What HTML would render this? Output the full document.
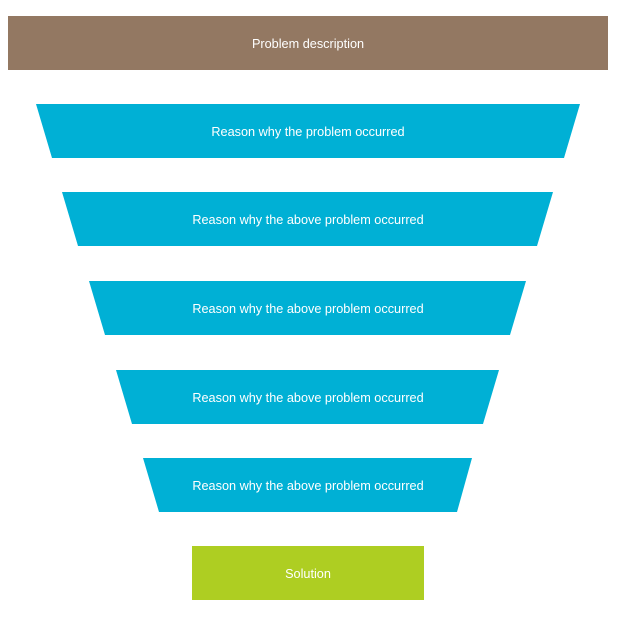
<!DOCTYPE html>
<html><head><style>
body{margin:0;width:627px;height:621px;background:#fff;overflow:hidden}
svg text{font-family:"Liberation Sans",sans-serif;font-size:12.7px;fill:#fff;text-anchor:middle;dominant-baseline:central}
</style></head><body>
<svg width="627" height="621" xmlns="http://www.w3.org/2000/svg">
<rect x="8" y="16" width="600" height="54" fill="#937862"/>
<text x="308" y="44">Problem description</text>
<polygon points="36,104 580,104 564,158 52,158" fill="#00B0D5"/>
<text x="308" y="132">Reason why the problem occurred</text>
<polygon points="62,192 553,192 537,246 78,246" fill="#00B0D5"/>
<text x="308" y="220">Reason why the above problem occurred</text>
<polygon points="89,281 526,281 510,335 105,335" fill="#00B0D5"/>
<text x="308" y="309">Reason why the above problem occurred</text>
<polygon points="116,370 499,370 483,424 132,424" fill="#00B0D5"/>
<text x="308" y="398">Reason why the above problem occurred</text>
<polygon points="143,458 472,458 457,512 159,512" fill="#00B0D5"/>
<text x="308" y="486">Reason why the above problem occurred</text>
<rect x="192" y="546" width="232" height="54" fill="#AECE22"/>
<text x="308" y="574">Solution</text>
</svg>
</body></html>
